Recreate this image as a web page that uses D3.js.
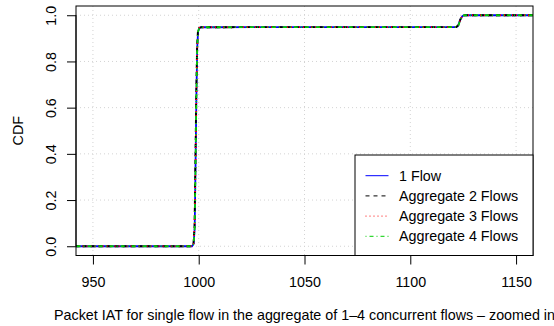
<!DOCTYPE html>
<html><head><meta charset="utf-8">
<script src="https://cdn.jsdelivr.net/npm/d3@7"></script>
<style>body{margin:0;background:#fff}svg{font-family:"Liberation Sans",Arial,Helvetica,sans-serif}</style>
</head><body>
<svg id="chart" width="554" height="326"></svg>
<script>
// Data: x = packet IAT, y = CDF
const xTicks = [950, 1000, 1050, 1100, 1150];
const yTicks = [0, 0.2, 0.4, 0.6, 0.8, 1.0];
const seriesNames = ["1 Flow", "Aggregate 2 Flows", "Aggregate 3 Flows", "Aggregate 4 Flows"];
const flow1X = [930, 996.8, 997.6, 998.1, 998.5, 998.9, 999.3, 999.7, 1000.3, 1001.3, 1121.8, 1122.6, 1123.2, 1123.9, 1124.6, 1125.4, 1170];
const flow1Y = [0, 0, 0.01, 0.08, 0.35, 0.65, 0.86, 0.93, 0.945, 0.948, 0.949, 0.955, 0.97, 0.985, 0.996, 1.0, 1.0];
const agg2X = [930, 996.6, 997.5, 998.0, 998.4, 998.8, 999.2, 999.6, 1000.2, 1001.2, 1121.7, 1122.5, 1123.1, 1123.8, 1124.5, 1125.3, 1170];
const agg2Y = [0, 0, 0.01, 0.08, 0.35, 0.65, 0.86, 0.93, 0.945, 0.948, 0.949, 0.955, 0.97, 0.985, 0.996, 1.0, 1.0];
const agg3X = [930, 996.7, 997.5, 998.0, 998.5, 998.9, 999.3, 999.7, 1000.3, 1001.3, 1121.8, 1122.6, 1123.2, 1123.9, 1124.6, 1125.4, 1170];
const agg3Y = [0, 0, 0.01, 0.08, 0.35, 0.65, 0.86, 0.93, 0.945, 0.948, 0.949, 0.955, 0.97, 0.985, 0.996, 1.0, 1.0];
const agg4X = [930, 996.7, 997.6, 998.1, 998.5, 998.9, 999.3, 999.7, 1000.3, 1001.3, 1121.9, 1122.7, 1123.3, 1124.0, 1124.7, 1125.5, 1170];
const agg4Y = [0, 0, 0.01, 0.08, 0.35, 0.65, 0.86, 0.93, 0.945, 0.948, 0.949, 0.955, 0.97, 0.985, 0.996, 1.0, 1.0];

const seriesX = [flow1X, agg2X, agg3X, agg4X];
const seriesY = [flow1Y, agg2Y, agg3Y, agg4Y];
const colors = ["#0000ff", "#000000", "#ff0000", "#00cd00"];
const dashes = [null, "4,4", "1,3", "1,3,4,3"];
const FS = 14.3;

const svg = d3.select("#chart");
const L = 76, R = 533, T = 6, B = 255.5;
const x = d3.scaleLinear().domain([942, 1158]).range([L, R]);
const y = d3.scaleLinear().domain([-0.04, 1.04]).range([B, T]);

svg.append("defs").append("clipPath").attr("id", "clip")
  .append("rect").attr("x", L).attr("y", T).attr("width", R - L).attr("height", B - T);

// grid
const grid = svg.append("g").attr("stroke", "#d3d3d3").attr("stroke-dasharray", "1,3").attr("stroke-width", 1);
xTicks.forEach(v => grid.append("line").attr("x1", x(v)).attr("x2", x(v)).attr("y1", T).attr("y2", B));
yTicks.forEach(v => grid.append("line").attr("x1", L).attr("x2", R).attr("y1", y(v)).attr("y2", y(v)));

// curves
const line = d3.line().x(d => x(d[0])).y(d => y(d[1]));
const curves = svg.append("g").attr("clip-path", "url(#clip)");
seriesX.forEach((xs, i) => {
  const pts = xs.map((v, j) => [v, seriesY[i][j]]);
  curves.append("path").attr("d", line(pts)).attr("fill", "none")
    .attr("stroke", colors[i]).attr("stroke-width", 1.8)
    .attr("stroke-dasharray", dashes[i]);
});

// axes
const xAxis = d3.axisBottom(x).tickValues(xTicks).tickSize(9).tickFormat(d3.format("d"));
const gx = svg.append("g").attr("transform", `translate(0,${B})`).call(xAxis);
gx.select(".domain").attr("d", `M${x(950)},0H${x(1150)}`);
gx.selectAll("text").attr("font-size", FS).attr("font-family", "Liberation Sans, Arial, sans-serif").attr("fill", "#000")
  .attr("y", 31.5).attr("dy", 0);

const yAxis = d3.axisLeft(y).tickValues(yTicks).tickSize(9).tickFormat(d3.format(".1f"));
const gy = svg.append("g").attr("transform", `translate(${L},0)`).call(yAxis);
gy.select(".domain").attr("d", `M0,${y(0)}V${y(1)}`);
gy.selectAll("text").attr("font-size", FS).attr("font-family", "Liberation Sans, Arial, sans-serif").attr("fill", "#000")
  .attr("x", null).attr("dy", null).attr("text-anchor", "middle")
  .attr("transform", "translate(-20,0) rotate(-90)");

// box
svg.append("rect").attr("x", L).attr("y", T).attr("width", R - L).attr("height", B - T)
  .attr("fill", "none").attr("stroke", "#000").attr("stroke-width", 1);

// axis titles
svg.append("text").attr("x", (L + R) / 2).attr("y", 319.5).attr("text-anchor", "middle")
  .attr("font-size", FS).text("Packet IAT for single flow in the aggregate of 1\u20134 concurrent flows \u2013 zoomed in");
svg.append("text").attr("transform", `translate(23,${(T + B) / 2}) rotate(-90)`).attr("text-anchor", "middle")
  .attr("font-size", FS).text("CDF");

// legend
const lg = svg.append("g");
lg.append("rect").attr("x", 355).attr("y", 155).attr("width", R - 355).attr("height", B - 155)
  .attr("fill", "#fff").attr("stroke", "#000");
seriesNames.forEach((name, i) => {
  const yy = 175.7 + i * 20.2;
  lg.append("line").attr("x1", 365.5).attr("x2", 388.5).attr("y1", yy).attr("y2", yy)
    .attr("stroke", colors[i]).attr("stroke-width", 1).attr("stroke-dasharray", dashes[i]);
  lg.append("text").attr("x", 399).attr("y", yy).attr("dy", "0.35em").attr("font-size", FS).text(name);
});
</script>
</body></html>
